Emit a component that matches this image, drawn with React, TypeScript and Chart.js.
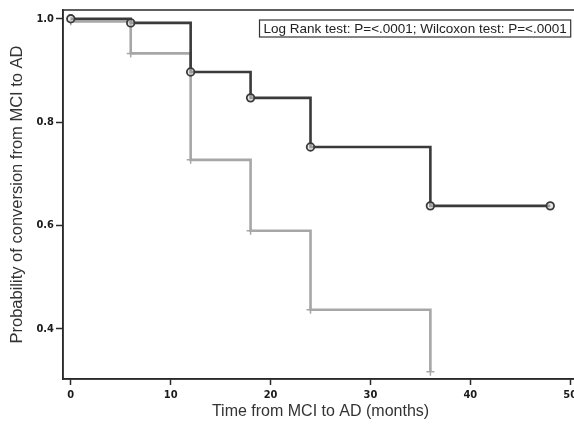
import React, { useEffect, useRef } from "react";
import { Chart, registerables } from "chart.js";

Chart.register(...registerables);

const darkTimes = [0, 6, 12, 18, 24, 36, 48];
const darkValues = [1.0, 0.992, 0.897, 0.847, 0.752, 0.638, 0.638];
const grayTimes = [0, 6, 12, 18, 24, 36];
const grayValues = [0.995, 0.933, 0.727, 0.59, 0.437, 0.317];
const xTicks = [0, 10, 20, 30, 40, 50];
const yTicks = [0.4, 0.6, 0.8, 1.0];
const testLabel = "Log Rank test: P=<.0001; Wilcoxon test: P=<.0001";
const xTitle = "Time from MCI to AD (months)";
const yTitle = "Probability of conversion from MCI to AD";

const DARK = "#3a3a3a";
const GRAY = "#a7a7a7";
const AXIS = "#2a2a2a";

const framePlugin = {
  id: "frameAndNote",
  afterDatasetsDraw(chart: any) {
    const { ctx, chartArea } = chart;
    ctx.save();
    ctx.strokeStyle = AXIS;
    ctx.lineWidth = 1.5;
    ctx.strokeRect(chartArea.left, chartArea.top, chartArea.right - chartArea.left, chartArea.bottom - chartArea.top);
    ctx.font = "13.5px 'Liberation Sans', Arial, sans-serif";
    const w = ctx.measureText(testLabel).width;
    const right = 570.7;
    const boxW = w + 8;
    const top = 20;
    const h = 17;
    ctx.fillStyle = "#ffffff";
    ctx.fillRect(right - boxW, top, boxW, h);
    ctx.lineWidth = 1.2;
    ctx.strokeStyle = "#333";
    ctx.strokeRect(right - boxW, top, boxW, h);
    ctx.fillStyle = "#222";
    ctx.textBaseline = "middle";
    ctx.textAlign = "left";
    ctx.fillText(testLabel, right - boxW + 4, top + h / 2 + 0.5);
    ctx.restore();
  },
};

export default function App() {
  const ref = useRef<HTMLCanvasElement | null>(null);
  useEffect(() => {
    if (!ref.current) return;
    const tickFont = { family: "'Liberation Sans Narrow', 'DejaVu Sans Condensed', Arial, sans-serif", size: 11, weight: "bold" as const };
    const chart = new Chart(ref.current, {
      type: "line",
      data: {
        datasets: [
          {
            data: darkTimes.map((t, i) => ({ x: t, y: darkValues[i] })),
            borderColor: DARK,
            borderWidth: 2.6,
            stepped: true,
            pointStyle: "circle",
            pointRadius: 3.8,
            pointBorderWidth: 1.8,
            pointBorderColor: DARK,
            pointBackgroundColor: "rgba(220,220,220,0.6)",
            fill: false,
          },
          {
            data: grayTimes.map((t, i) => ({ x: t, y: grayValues[i] })),
            borderColor: GRAY,
            borderWidth: 2.6,
            stepped: true,
            pointStyle: "cross",
            pointRadius: 4,
            pointBorderWidth: 1.5,
            pointBorderColor: GRAY,
            fill: false,
          },
        ],
      },
      options: {
        animation: false,
        responsive: false,
        layout: { padding: { left: 4, top: 10, right: 22, bottom: 0 } },
        plugins: { legend: { display: false }, tooltip: { enabled: false } },
        scales: {
          x: {
            type: "linear",
            min: -0.78,
            max: 50.78,
            afterBuildTicks: (s: any) => {
              s.ticks = xTicks.map((v) => ({ value: v }));
            },
            afterFit: (s: any) => {
              s.height = 46;
            },
            ticks: { font: tickFont, color: "#1a1a1a", padding: 4, maxRotation: 0, autoSkip: false },
            grid: { display: true, drawOnChartArea: false, drawTicks: true, tickLength: 6, tickColor: AXIS, tickWidth: 1.5 },
            border: { display: true, color: AXIS, width: 1.5 },
            title: { display: true, text: xTitle, font: { family: "'Liberation Sans', Arial, sans-serif", size: 16 }, color: "#333", padding: { top: 0, bottom: 4 } },
          },
          y: {
            type: "linear",
            min: 0.303,
            max: 1.017,
            afterBuildTicks: (s: any) => {
              s.ticks = yTicks.map((v) => ({ value: v }));
            },
            afterFit: (s: any) => {
              s.width = 59;
            },
            ticks: { font: tickFont, color: "#1a1a1a", padding: 2, callback: (v: any) => Number(v).toFixed(1) },
            grid: { display: true, drawOnChartArea: false, drawTicks: true, tickLength: 7, tickColor: AXIS, tickWidth: 1.5 },
            border: { display: true, color: AXIS, width: 1.5 },
            title: { display: true, text: yTitle, font: { family: "'Liberation Sans', Arial, sans-serif", size: 16.5 }, color: "#333", padding: { top: 4, bottom: 0 } },
          },
        },
      },
      plugins: [framePlugin],
    });
    return () => chart.destroy();
  }, []);
  return (
    <div style={{ position: "fixed", left: 0, top: 0, width: 574, height: 425, overflow: "hidden", background: "#fff" }}>
      <canvas ref={ref} width={600} height={425} style={{ display: "block" }} />
    </div>
  );
}
